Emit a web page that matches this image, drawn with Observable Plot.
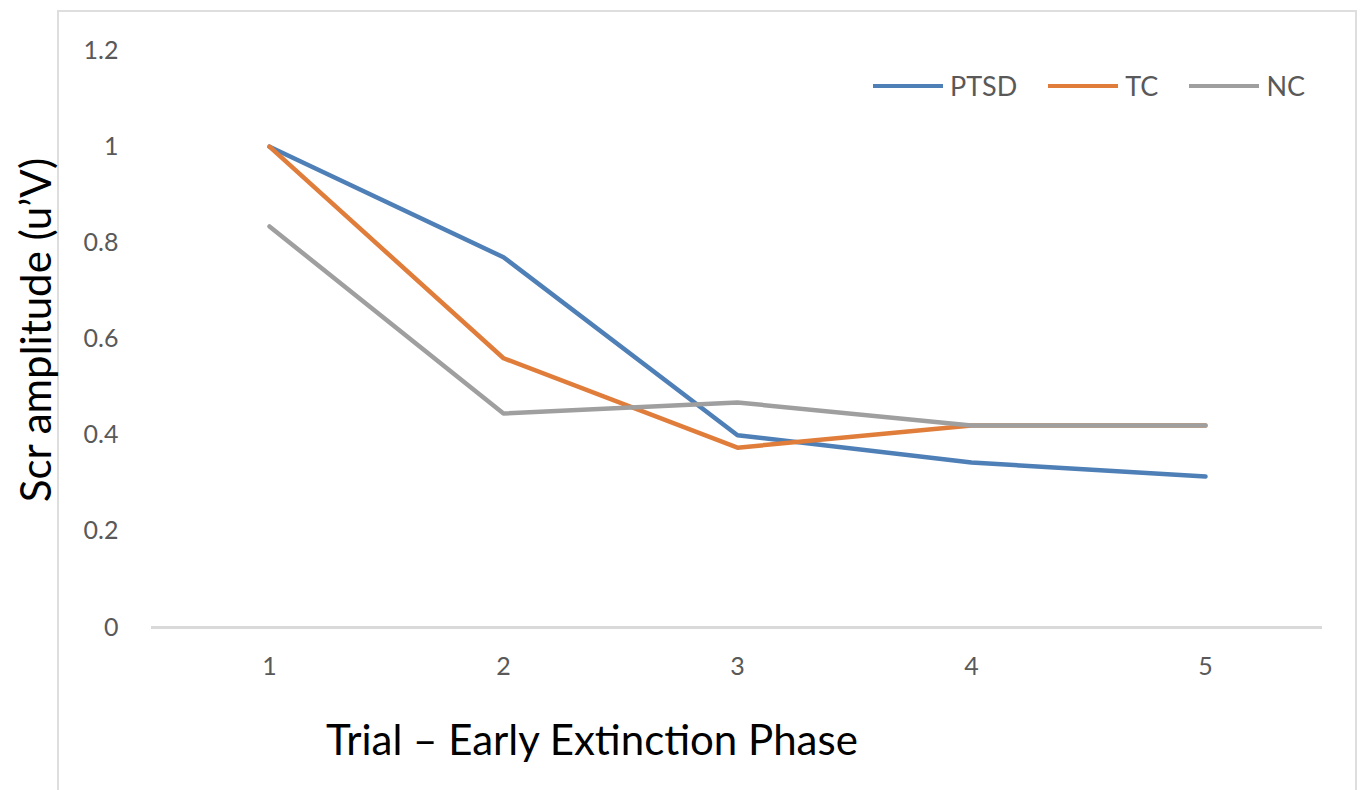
<!DOCTYPE html>
<html>
<head>
<meta charset="utf-8">
<script src="https://cdn.jsdelivr.net/npm/d3@7"></script>
<script src="https://cdn.jsdelivr.net/npm/@observablehq/plot@0.6"></script>
<style>
  html, body { margin: 0; padding: 0; background: #fff; }
  #wrap { position: relative; width: 1371px; height: 790px; overflow: hidden; font-family: Lato, "Open Sans", sans-serif; }
  #frame { position: absolute; left: 57px; top: 10px; width: 1300px; height: 800px; border: 2px solid #dedede; box-sizing: border-box; }
  #legend { position: absolute; top: 69px; left: 873px; display: flex; align-items: center; font-size: 27px; color: #595959; }
  #legend .item { display: flex; align-items: center; margin-right: 31px; }
  #legend .sw { width: 70px; height: 4px; margin-right: 7px; }
  #ytitle { position: absolute; left: 35px; top: 330px; transform: translate(-50%, -50%) rotate(-90deg); font-size: 42px; color: #000; white-space: nowrap; }
  #xtitle { position: absolute; left: 326px; top: 714px; font-size: 42px; color: #000; white-space: nowrap; }
  #chart { position: absolute; left: 0; top: 0; }
</style>
</head>
<body>
<div id="wrap">
  <div id="frame"></div>
  <div id="chart"></div>
  <div id="legend"></div>
  <div id="ytitle">Scr amplitude (u’V)</div>
  <div id="xtitle">Trial – Early Extinction Phase</div>
</div>
<script>
const trials = [1, 2, 3, 4, 5];
const ptsd = [1.0, 0.77, 0.40, 0.343, 0.314];
const tc   = [1.0, 0.56, 0.374, 0.42, 0.42];
const nc   = [0.834, 0.445, 0.468, 0.42, 0.42];
const seriesNames = ["PTSD", "TC", "NC"];
const seriesColors = ["#4e7fb6", "#e07d3a", "#9f9f9f"];
const yTicks = [0, 0.2, 0.4, 0.6, 0.8, 1, 1.2];

const seriesValues = [ptsd, tc, nc];
const rows = [];
seriesNames.forEach((name, i) => {
  trials.forEach((t, j) => rows.push({trial: t, value: seriesValues[i][j], group: name}));
});

const chart = Plot.plot({
  width: 1371,
  height: 790,
  marginLeft: 151,
  marginRight: 49,
  marginTop: 50,
  marginBottom: 163,
  style: {fontFamily: "Lato, 'Open Sans', sans-serif", fontSize: "25px", color: "#595959", background: "transparent"},
  x: {type: "point", domain: trials, padding: 0.5, label: null, tickSize: 0, tickPadding: 30},
  y: {domain: [0, 1.2], ticks: yTicks, tickFormat: d => String(+d.toFixed(1)), label: null, tickSize: 0, tickPadding: 33},
  color: {domain: seriesNames, range: seriesColors},
  marks: [
    Plot.ruleY([0], {stroke: "#d9d9d9", strokeWidth: 3}),
    Plot.line(rows, {x: "trial", y: "value", z: "group", stroke: "group", strokeWidth: 4.5, strokeLinejoin: "round", strokeLinecap: "round"})
  ]
});
document.getElementById("chart").appendChild(chart);

const legend = document.getElementById("legend");
seriesNames.forEach((name, i) => {
  const item = document.createElement("div");
  item.className = "item";
  const sw = document.createElement("div");
  sw.className = "sw";
  sw.style.background = seriesColors[i];
  const label = document.createElement("span");
  label.textContent = name;
  item.appendChild(sw);
  item.appendChild(label);
  legend.appendChild(item);
});
</script>
</body>
</html>
